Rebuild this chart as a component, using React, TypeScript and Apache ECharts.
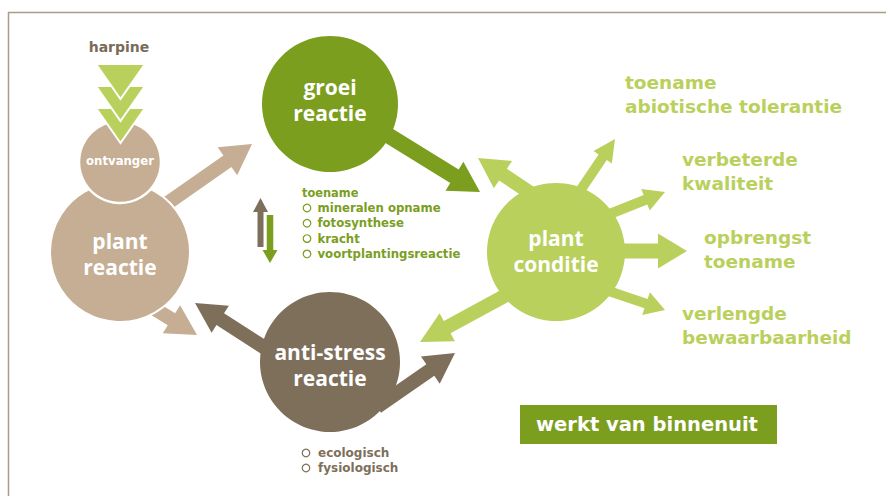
import React, { useEffect, useRef } from "react";
import * as echarts from "echarts";

const TAN = "#c5ae94";
const BROWN = "#7e6f5b";
const GREEN = "#7b9e1f";
const LIME = "#bad05d";
const FRAME = "#a99c88";
const FONT = '"Open Sans", "DejaVu Sans", sans-serif';
const WIDE = '"DejaVu Sans", "Open Sans", sans-serif';

// nodes of the diagram
const nodeLines = [["groei", "reactie"], ["plant", "reactie"], ["plant", "conditie"], ["anti-stress", "reactie"]];
const nodeCenters = [[330, 104], [120, 252], [556, 252], [330, 362]];
const nodeRadii = [68, 70, 69, 70];
const nodeColors = [GREEN, TAN, LIME, BROWN];
const nodeLabelY = [100, 254, 250.5, 365];

const receptorLabel = "ontvanger";
const inputLabel = "harpine";

// outcome labels
const outcomeLines = [["toename", "abiotische tolerantie"], ["verbeterde", "kwaliteit"], ["opbrengst", "toename"], ["verlengde", "bewaarbaarheid"]];
const outcomePos = [[625, 82], [682, 159], [704, 237], [682, 313]];

// lists
const groeiHeader = "toename";
const groeiItems = ["mineralen opname", "fotosynthese", "kracht", "voortplantingsreactie"];
const stressItems = ["ecologisch", "fysiologisch"];
const badgeLabel = "werkt van binnenuit";

// arrows: [startX, startY, tipX, tipY, shaftWidth, headLength, headWidth, color]
const arrows: [number, number, number, number, number, number, number, string][] = [
  [162, 207, 252, 144, 14, 30, 34, TAN],
  [137, 298, 197, 335, 14, 30, 33, TAN],
  [352, 113, 480, 192, 16, 30, 34, GREEN],
  [553, 208, 478, 158, 14, 30, 33, LIME],
  [559, 222, 615, 139, 10, 22, 22, LIME],
  [572, 229, 665, 192, 10, 21, 23, LIME],
  [556, 251, 687, 251, 15, 29, 35, LIME],
  [570, 278, 665, 310, 10, 20, 24, LIME],
  [534, 280, 420, 342, 14, 31, 32, LIME],
  [304, 373, 195, 303, 14, 30, 32, BROWN],
  [377, 407, 455, 353, 14, 30, 33, BROWN],
  [260.5, 247, 260.5, 198, 6, 14, 15, BROWN],
  [270, 215, 270, 263, 6.5, 13, 15, GREEN],
];

const chevronTops = [64, 86, 108];

function arrowPoints(sx: number, sy: number, tx: number, ty: number, w: number, hl: number, hw: number) {
  const dx = tx - sx;
  const dy = ty - sy;
  const len = Math.sqrt(dx * dx + dy * dy);
  const ux = dx / len;
  const uy = dy / len;
  const nx = -uy;
  const ny = ux;
  const bx = tx - ux * hl;
  const by = ty - uy * hl;
  return [
    [sx + nx * w / 2, sy + ny * w / 2],
    [bx + nx * w / 2, by + ny * w / 2],
    [bx + nx * hw / 2, by + ny * hw / 2],
    [tx, ty],
    [bx - nx * hw / 2, by - ny * hw / 2],
    [bx - nx * w / 2, by - ny * w / 2],
    [sx - nx * w / 2, sy - ny * w / 2],
  ];
}

function txt(x: number, y: number, text: string, size: number, fill: string, align = "center", family = FONT, lineHeight?: number) {
  const style: any = {
    text,
    fill,
    font: `bold ${size}px ${family}`,
    textAlign: align,
    textVerticalAlign: "middle",
  };
  if (lineHeight) style.lineHeight = lineHeight;
  return { type: "text", x, y, style };
}

function buildElements() {
  const els: any[] = [];
  // frame
  els.push({ type: "line", shape: { x1: 8, y1: 12.5, x2: 886, y2: 12.5 }, style: { stroke: FRAME, lineWidth: 1.5 } });
  els.push({ type: "line", shape: { x1: 8.5, y1: 12, x2: 8.5, y2: 496 }, style: { stroke: FRAME, lineWidth: 1.5 } });

  // arrows (behind circles)
  arrows.forEach((a) => {
    els.push({ type: "polygon", shape: { points: arrowPoints(a[0], a[1], a[2], a[3], a[4], a[5], a[6]) }, style: { fill: a[7] } });
  });

  // main nodes
  nodeCenters.forEach((c, i) => {
    els.push({
      type: "circle",
      shape: { cx: c[0], cy: c[1], r: nodeRadii[i] },
      style: { fill: nodeColors[i], stroke: i === 1 ? "#ffffff" : null, lineWidth: i === 1 ? 2 : 0 },
    });
  });

  // receptor
  els.push({ type: "circle", shape: { cx: 120, cy: 162, r: 41 }, style: { fill: TAN, stroke: "#ffffff", lineWidth: 2.5 } });

  // chevrons (lowest first so upper ones overlap)
  [...chevronTops].reverse().forEach((t) => {
    els.push({
      type: "polygon",
      shape: { points: [[96, t], [145, t], [120.5, t + 35]] },
      style: { fill: LIME, stroke: "#ffffff", lineWidth: 2, lineJoin: "miter" },
    });
  });

  // node labels
  nodeCenters.forEach((c, i) => {
    els.push(txt(c[0], nodeLabelY[i], nodeLines[i].join("\n"), 21, "#ffffff", "center", FONT, 26));
  });
  els.push(txt(120, 161, receptorLabel, 11.7, "#ffffff", "center", WIDE));
  els.push(txt(119, 47, inputLabel, 14, "#7a6b58", "center", WIDE));

  // outcomes
  outcomeLines.forEach((lines, i) => {
    lines.forEach((l, j) => {
      els.push(txt(outcomePos[i][0], outcomePos[i][1] + j * 24.5, l, 18.5, LIME, "left", WIDE));
    });
  });

  // groei list
  els.push(txt(302, 193, groeiHeader, 11.4, GREEN, "left", WIDE));
  groeiItems.forEach((it, i) => {
    const y = 208 + i * 15.3;
    els.push({ type: "circle", shape: { cx: 307, cy: y, r: 3.8 }, style: { fill: "none", stroke: GREEN, lineWidth: 1.2 } });
    els.push(txt(317.5, y, it, 11.7, GREEN, "left", WIDE));
  });

  // stress list
  stressItems.forEach((it, i) => {
    const y = 453 + i * 15;
    els.push({ type: "circle", shape: { cx: 306, cy: y, r: 3.8 }, style: { fill: "none", stroke: BROWN, lineWidth: 1.2 } });
    els.push(txt(318, y, it, 12, BROWN, "left", WIDE));
  });

  // badge
  els.push({ type: "rect", shape: { x: 520, y: 405, width: 257, height: 39 }, style: { fill: GREEN } });
  els.push(txt(647, 424, badgeLabel, 19.5, "#ffffff", "center", WIDE));

  return els;
}

export default function App() {
  const ref = useRef<HTMLDivElement>(null);
  useEffect(() => {
    if (!ref.current) return;
    const chart = echarts.init(ref.current, null, { renderer: "svg" });
    chart.setOption({
      animation: false,
      backgroundColor: "#ffffff",
      graphic: { elements: buildElements() },
    });
    return () => chart.dispose();
  }, []);
  return <div ref={ref} style={{ position: "fixed", left: 0, top: 0, width: 886, height: 496 }} />;
}
